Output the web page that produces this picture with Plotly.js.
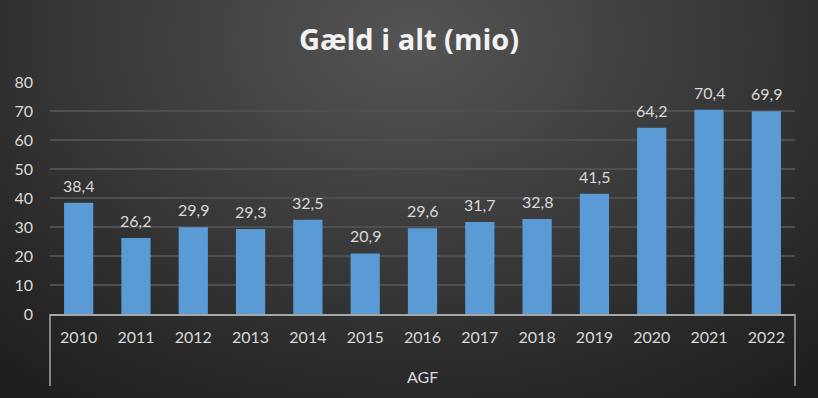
<!DOCTYPE html>
<html><head><meta charset="utf-8">
<script src="https://cdn.plot.ly/plotly-3.0.1.min.js"></script>
<style>
html,body{margin:0;padding:0;}
#chart{width:818px;height:398px;background:radial-gradient(ellipse 75% 110% at 50% 10%, #545454 0%, #3c3c3c 45%, #262626 85%, #1f1f1f 100%);}
</style></head><body><div id="chart"></div>
<script>
const years = ['2010','2011','2012','2013','2014','2015','2016','2017','2018','2019','2020','2021','2022'];
const gaeld = [38.4,26.2,29.9,29.3,32.5,20.9,29.6,31.7,32.8,41.5,64.2,70.4,69.9];
const groupLabel = 'AGF';
const chartTitle = 'Gæld i alt (mio)';
const yTicks = [0,10,20,30,40,50,60,70,80];

const FONT = 'Lato, "Open Sans", sans-serif';
const labelAnns = years.map((y,i)=>({
  x: i, y: gaeld[i], xref:'x', yref:'y',
  text: gaeld[i].toFixed(1).replace('.', ','),
  showarrow:false, yanchor:'bottom', yshift:6,
  font:{family:FONT, size:16, color:'#d9d9d9'}
}));
labelAnns.push({x:0.5, y:-0.27, xref:'paper', yref:'paper', text:groupLabel, showarrow:false,
  yanchor:'middle', font:{family:FONT, size:16, color:'#d9d9d9'}});

const data = [{
  type:'bar', x:years, y:gaeld,
  marker:{color:'#5b9bd5', line:{width:0}},
  hoverinfo:'none'
}];
const layout = {
  width:818, height:398,
  paper_bgcolor:'rgba(0,0,0,0)', plot_bgcolor:'rgba(0,0,0,0)',
  margin:{l:50, r:23, t:82, b:84},
  bargap:0.49,
  separators:',.',
  title:{text:chartTitle, x:0.5, xanchor:'center', y:0.9, yanchor:'middle',
    font:{family:'"Open Sans", Lato, sans-serif', size:29, color:'#f2f2f2', weight:'bold'}},
  xaxis:{type:'category', range:[-0.5, years.length-0.5], showgrid:false, showline:true, linecolor:'#a6a6a6', linewidth:1.5,
    ticks:'', tickfont:{family:FONT, size:16, color:'#d9d9d9'}, ticklabelstandoff:8, fixedrange:true},
  yaxis:{range:[0,80], tickvals:yTicks, showgrid:true, gridcolor:'#4f4f4f', gridwidth:1.3,
    zeroline:false, showline:false, ticks:'', tickfont:{family:FONT, size:16, color:'#d9d9d9'},
    ticklabelstandoff:16, fixedrange:true},
  shapes:[
    {type:'line', xref:'paper', yref:'paper', x0:0, x1:0, y0:0, y1:-0.31, line:{color:'#a6a6a6', width:1.5}},
    {type:'line', xref:'paper', yref:'paper', x0:1, x1:1, y0:0, y1:-0.31, line:{color:'#a6a6a6', width:1.5}}
  ],
  annotations: labelAnns,
  showlegend:false
};
Plotly.newPlot('chart', data, layout, {displayModeBar:false, staticPlot:true});
</script></body></html>
